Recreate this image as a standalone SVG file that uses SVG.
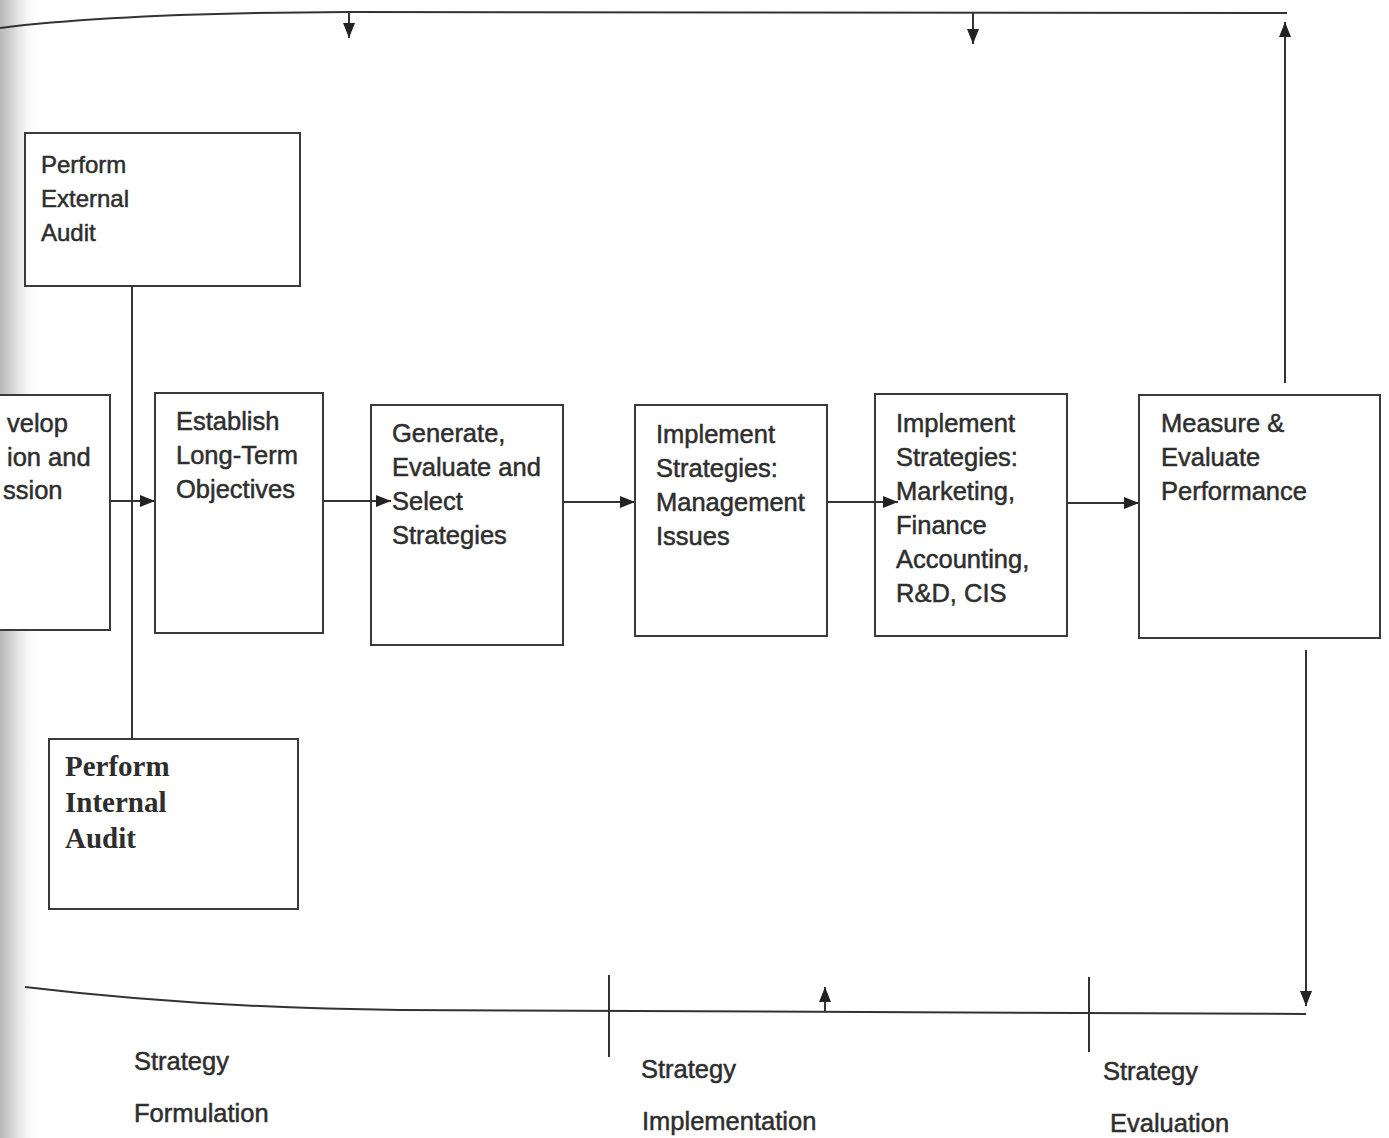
<svg xmlns="http://www.w3.org/2000/svg" width="1389" height="1138" viewBox="0 0 1389 1138">
<defs>
<style>
.box{fill:#fff;stroke:#3a3a3a;stroke-width:2}
.ln{fill:none;stroke:#333;stroke-width:2}
.t{font-family:"Liberation Sans",Arial,sans-serif;font-size:25.5px;fill:#2e2e2e;stroke:#2e2e2e;stroke-width:0.5}
.s{font-family:"Liberation Serif","Times New Roman",serif;font-size:29px;font-weight:bold;fill:#2e2e2e}
.lb{font-size:25.5px}
</style>
<marker id="ah2" viewBox="0 0 10 10" refX="10" refY="5" markerWidth="15" markerHeight="15" orient="auto" markerUnits="userSpaceOnUse">
<path d="M0,1 L10,5 L0,9 z" fill="#222"/>
</marker>
<linearGradient id="sh" x1="0" y1="0" x2="1" y2="0">
<stop offset="0" stop-color="#b8b8b8"/>
<stop offset="0.35" stop-color="#d8d8d8"/>
<stop offset="1" stop-color="#ffffff" stop-opacity="0"/>
</linearGradient>
</defs>
<rect width="1389" height="1138" fill="#fff"/>
<rect x="0" y="0" width="40" height="1138" fill="url(#sh)"/>

<g id="develop">
<rect class="box" x="-10" y="395" width="120" height="235"/>
<text class="t" x="7" y="432">velop</text>
<text class="t" x="7" y="466">ion and</text>
<text class="t" x="3" y="499">ssion</text>
</g>

<g id="connectors">
<path class="ln" d="M0,28 Q120,13 350,12 L1287,13"/>
<line class="ln" x1="349" y1="13" x2="349" y2="38" marker-end="url(#ah2)"/>
<line class="ln" x1="973" y1="13" x2="973" y2="44" marker-end="url(#ah2)"/>
<line class="ln" x1="1285" y1="383" x2="1285" y2="22" marker-end="url(#ah2)"/>
<line class="ln" x1="132" y1="287" x2="132" y2="739"/>
<line class="ln" x1="110" y1="501" x2="155" y2="501" marker-end="url(#ah2)"/>
<line class="ln" x1="323" y1="501" x2="391" y2="501" marker-end="url(#ah2)"/>
<line class="ln" x1="563" y1="502" x2="635" y2="502" marker-end="url(#ah2)"/>
<line class="ln" x1="827" y1="502" x2="898" y2="502" marker-end="url(#ah2)"/>
<line class="ln" x1="1067" y1="503" x2="1139" y2="503" marker-end="url(#ah2)"/>
<line class="ln" x1="1306" y1="650" x2="1306" y2="1006" marker-end="url(#ah2)"/>
<path class="ln" d="M25,987 Q200,1008 400,1010 L1306,1014"/>
<line class="ln" x1="825" y1="1012" x2="825" y2="987" marker-end="url(#ah2)"/>
<line class="ln" x1="609" y1="975" x2="609" y2="1057"/>
<line class="ln" x1="1089" y1="977" x2="1089" y2="1052"/>
</g>

<g id="external">
<rect class="box" x="25" y="133" width="275" height="153"/>
<text class="t" x="41" y="173" style="font-size:24px">Perform</text>
<text class="t" x="41" y="207" style="font-size:24px">External</text>
<text class="t" x="41" y="241" style="font-size:24px">Audit</text>
</g>

<g id="establish">
<rect class="box" x="155" y="393" width="168" height="240"/>
<text class="t" x="176" y="430">Establish</text>
<text class="t" x="176" y="464">Long-Term</text>
<text class="t" x="176" y="498">Objectives</text>
</g>

<g id="generate">
<rect class="box" x="371" y="405" width="192" height="240"/>
<text class="t" x="392" y="442">Generate,</text>
<text class="t" x="392" y="476">Evaluate and</text>
<text class="t" x="392" y="510">Select</text>
<text class="t" x="392" y="544">Strategies</text>
</g>
<line class="ln" x1="371" y1="501" x2="391" y2="501" marker-end="url(#ah2)"/>

<g id="impl-mgmt">
<rect class="box" x="635" y="405" width="192" height="231"/>
<text class="t" x="656" y="443">Implement</text>
<text class="t" x="656" y="477">Strategies:</text>
<text class="t" x="656" y="511">Management</text>
<text class="t" x="656" y="545">Issues</text>
</g>

<g id="impl-mkt">
<rect class="box" x="875" y="394" width="192" height="242"/>
<text class="t" x="896" y="432">Implement</text>
<text class="t" x="896" y="466">Strategies:</text>
<text class="t" x="896" y="500">Marketing,</text>
<text class="t" x="896" y="534">Finance</text>
<text class="t" x="896" y="568">Accounting,</text>
<text class="t" x="896" y="602">R&amp;D, CIS</text>
</g>
<line class="ln" x1="875" y1="502" x2="898" y2="502" marker-end="url(#ah2)"/>

<g id="measure">
<rect class="box" x="1139" y="395" width="241" height="243"/>
<text class="t" x="1161" y="432">Measure &amp;</text>
<text class="t" x="1161" y="466">Evaluate</text>
<text class="t" x="1161" y="500">Performance</text>
</g>

<g id="internal">
<rect class="box" x="49" y="739" width="249" height="170"/>
<text class="s" x="65" y="776">Perform</text>
<text class="s" x="65" y="812">Internal</text>
<text class="s" x="65" y="848">Audit</text>
</g>

<g id="labels">
<text class="t lb" x="134" y="1070">Strategy</text>
<text class="t lb" x="134" y="1122">Formulation</text>
<text class="t lb" x="641" y="1078">Strategy</text>
<text class="t lb" x="642" y="1130">Implementation</text>
<text class="t lb" x="1103" y="1080">Strategy</text>
<text class="t lb" x="1110" y="1132">Evaluation</text>
</g>
</svg>
